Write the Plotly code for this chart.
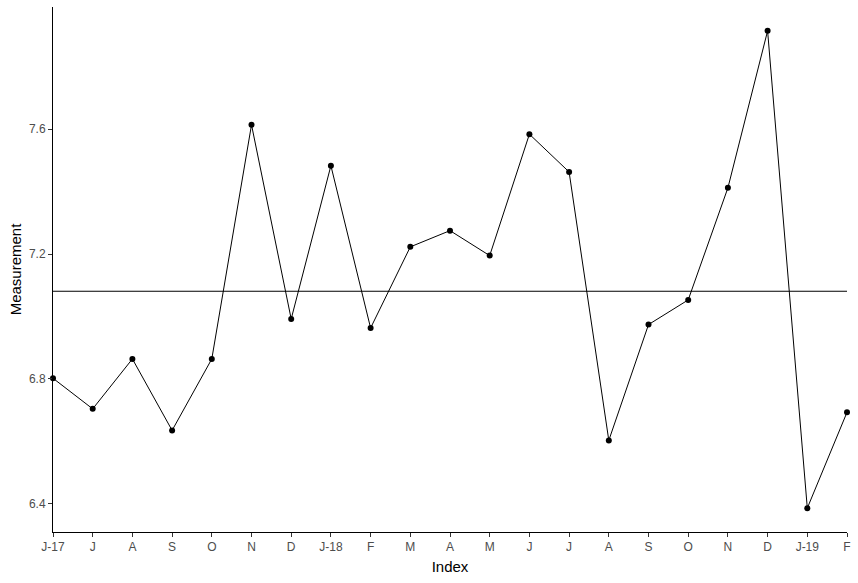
import numpy as np
import plotly.graph_objects as go

tick_labels = ["J-17", "J", "A", "S", "O", "N", "D", "J-18", "F", "M", "A", "M",
               "J", "J", "A", "S", "O", "N", "D", "J-19", "F"]
values = [6.802, 6.704, 6.864, 6.635, 6.864, 7.614, 6.992, 7.483, 6.963, 7.223,
          7.275, 7.195, 7.584, 7.463, 6.603, 6.974, 7.053, 7.412, 7.915, 6.386, 6.693]
y_ticks = [6.4, 6.8, 7.2, 7.6]

idx = list(range(len(values)))
mean_val = float(np.mean(values))

fig = go.Figure()
fig.add_trace(go.Scatter(
    x=idx, y=values, mode="lines+markers",
    line=dict(color="black", width=1),
    marker=dict(color="black", size=6, symbol="circle"),
    cliponaxis=False, showlegend=False,
))
fig.add_trace(go.Scatter(
    x=[idx[0], idx[-1]], y=[mean_val, mean_val], mode="lines",
    line=dict(color="black", width=1.1), showlegend=False, cliponaxis=False,
))

lo, hi = min(values), max(values)
pad = (hi - lo) * 0.05

fig.update_layout(
    width=858, height=583,
    margin=dict(l=53, r=8, t=7, b=51),
    paper_bgcolor="white", plot_bgcolor="white",
    font=dict(family="Liberation Sans, Arial, sans-serif", color="black"),
    xaxis=dict(
        range=[idx[0], idx[-1]], tickvals=idx, ticktext=tick_labels,
        showgrid=False, zeroline=False, showline=True, linecolor="black", linewidth=1,
        ticks="outside", ticklen=4, tickcolor="#333333", tickwidth=1,
        tickfont=dict(size=12, color="#4D4D4D"),
        title=dict(text="Index", font=dict(size=15, color="black"), standoff=8),
    ),
    yaxis=dict(
        range=[lo - pad, hi + pad], tickvals=y_ticks, ticktext=[f"{v:.1f}" for v in y_ticks],
        showgrid=False, zeroline=False, showline=True, linecolor="black", linewidth=1,
        ticks="outside", ticklen=4, tickcolor="#333333", tickwidth=1,
        tickfont=dict(size=12, color="#4D4D4D"),
        title=dict(text="Measurement", font=dict(size=15, color="black"), standoff=3),
    ),
)

fig.write_html("out.html", config={"displayModeBar": False},
               post_script="document.body.style.margin='0';document.body.style.overflow='hidden';")
